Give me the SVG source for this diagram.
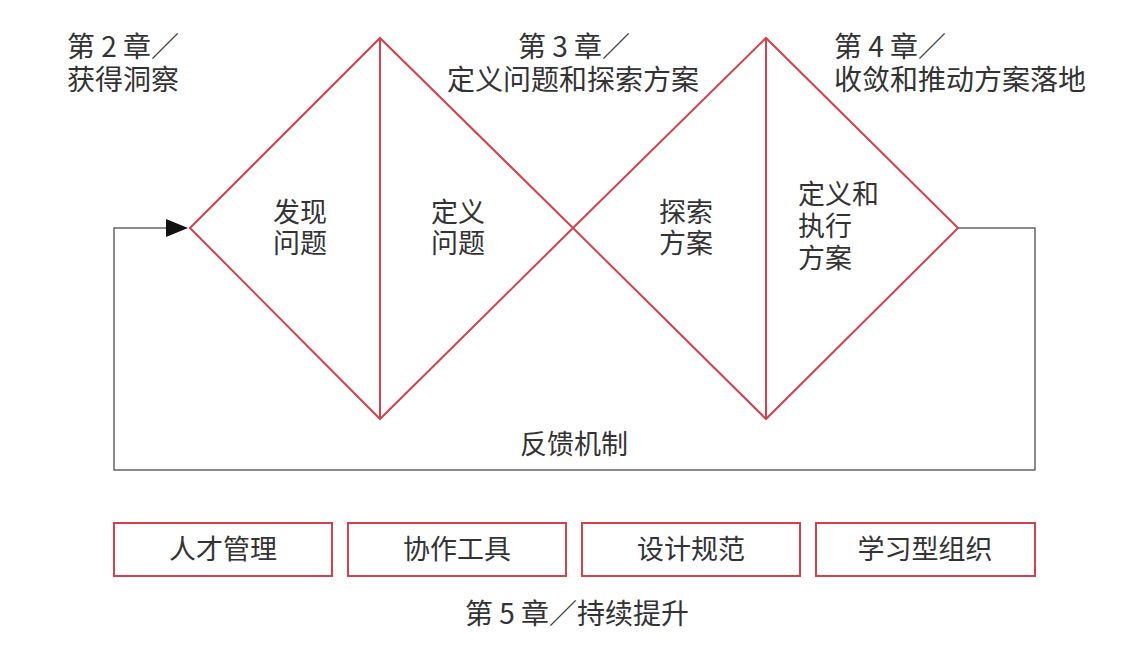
<svg xmlns="http://www.w3.org/2000/svg" width="1146" height="652" viewBox="0 0 1146 652">
<style>
text{font-family:"Noto Sans CJK SC","Noto Sans",sans-serif;fill:#333;font-size:27px}
.h{font-size:28px}
.c{text-anchor:middle}
.red{fill:none;stroke:#d3424c;stroke-width:2}
.loop{fill:none;stroke:#666;stroke-width:1.5}
.box{fill:#fff;stroke:#d3424c;stroke-width:2}
</style>
<rect width="1146" height="652" fill="#fff"/>
<g id="connectors">
<path class="loop" d="M958,228 H1035 V470 H114 V228 H166"/>
<path d="M166,219 L188,228 L166,237 Z" fill="#111"/>
</g>
<g id="diamond1">
<path class="red" d="M190,228 L380,38 L573,228 L380,419 Z M380,38 V419"/>
</g>
<g id="diamond2">
<path class="red" d="M573,228 L766,38 L958,228 L766,419 Z M766,38 V419"/>
</g>
<g id="ch2"><text class="h" x="67" y="57">第 2 章／</text><text class="h" x="67" y="90">获得洞察</text></g>
<g id="ch3"><text class="h c" x="574" y="57">第 3 章／</text><text class="h" x="447" y="90">定义问题和探索方案</text></g>
<g id="ch4"><text class="h" x="834" y="57">第 4 章／</text><text class="h" x="834" y="90">收敛和推动方案落地</text></g>
<g id="n1"><text class="c" x="300" y="222">发现</text><text class="c" x="300" y="253">问题</text></g>
<g id="n2"><text class="c" x="458" y="222">定义</text><text class="c" x="458" y="253">问题</text></g>
<g id="n3"><text class="c" x="686" y="222">探索</text><text class="c" x="686" y="253">方案</text></g>
<g id="n4"><text x="798" y="204">定义和</text><text x="798" y="236">执行</text><text x="798" y="268">方案</text></g>
<g id="feedback"><text class="c" x="574" y="454">反馈机制</text></g>
<g id="b1"><rect class="box" x="114" y="523" width="218" height="53"/><text class="c" x="223" y="559">人才管理</text></g>
<g id="b2"><rect class="box" x="348" y="523" width="218" height="53"/><text class="c" x="457" y="559">协作工具</text></g>
<g id="b3"><rect class="box" x="582" y="523" width="218" height="53"/><text class="c" x="691" y="559">设计规范</text></g>
<g id="b4"><rect class="box" x="816" y="523" width="219" height="53"/><text class="c" x="925" y="559">学习型组织</text></g>
<g id="ch5"><text class="h c" x="577" y="624">第 5 章／持续提升</text></g>
</svg>
